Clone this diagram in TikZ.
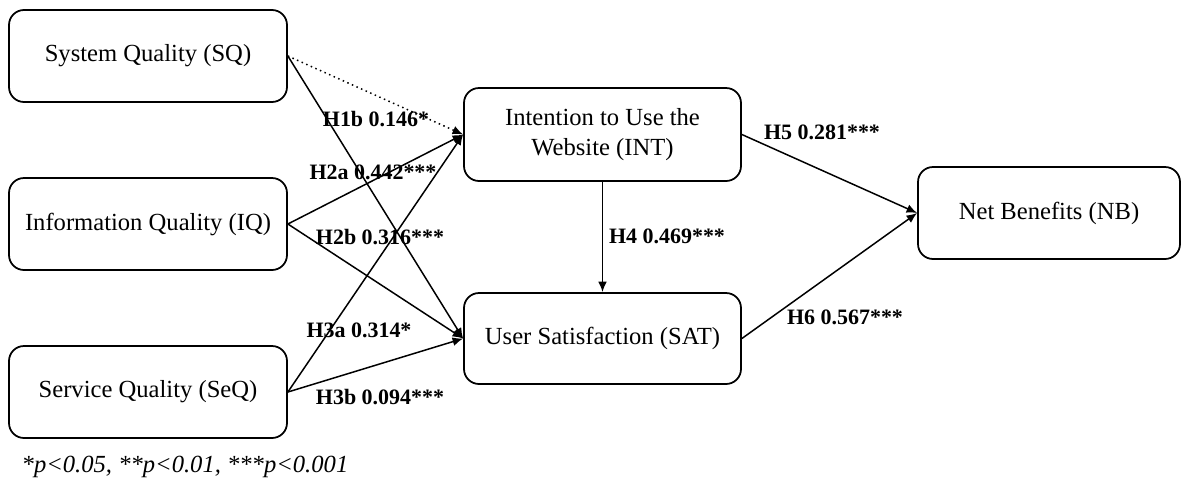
\documentclass[tikz,border=0pt]{standalone}
\usepackage{fontspec}
\setmainfont{Liberation Serif}
\usetikzlibrary{arrows.meta}

\tikzset{
    construct/.style={draw, line width=1pt, rounded corners=0.3cm, align=center,
        minimum width=5.56cm, minimum height=1.84cm, font=\fontsize{14}{17}\selectfont},
    path/.style={-{Latex[length=6pt,width=5pt]}, line width=0.85pt},
    coef/.style={font=\fontsize{12.5}{14}\selectfont\bfseries, inner sep=1pt}
}

\begin{document}
\begin{tikzpicture}
    \useasboundingbox (0,0) rectangle (23.78,-9.86);

    % Constructs
    \node[construct] (sq)  at (2.96,-1.12) {System Quality (SQ)};
    \node[construct] (iq)  at (2.96,-4.48) {Information Quality (IQ)};
    \node[construct] (seq) at (2.96,-7.84) {Service Quality (SeQ)};
    \node[construct, minimum width=5.54cm, minimum height=1.86cm] (int) at (12.05,-2.69) {Intention to Use the\\Website (INT)};
    \node[construct, minimum width=5.54cm, minimum height=1.82cm] (sat) at (12.05,-6.77) {User Satisfaction (SAT)};
    \node[construct, minimum width=5.24cm] (nb) at (20.98,-4.26) {Net Benefits (NB)};

    % Paths
    \draw[path, dotted] (sq.east) -- (int.west);
    \draw[path] (sq.east) -- (sat.west);
    \draw[path] (iq.east) -- (int.west);
    \draw[path] (iq.east) -- (sat.west);
    \draw[path] (seq.east) -- (int.west);
    \draw[path] (seq.east) -- (sat.west);
    \draw[path] (int.south) -- (sat.north);
    \draw[path] (int.east) -- (nb.west);
    \draw[path] (sat.east) -- (nb.west);

    % Coefficients
    \node[coef] (h1b) at (7.52,-2.38) {H1b 0.146*};
    \node[coef] (h2a) at (7.46,-3.44) {H2a 0.442***};
    \node[coef] (h2b) at (7.60,-4.74) {H2b 0.316***};
    \node[coef] (h3a) at (7.18,-6.60) {H3a 0.314*};
    \node[coef] (h3b) at (7.60,-7.94) {H3b 0.094***};
    \node[coef] (h4)  at (13.34,-4.72) {H4 0.469***};
    \node[coef] (h5)  at (16.44,-2.64) {H5 0.281***};
    \node[coef] (h6)  at (16.90,-6.34) {H6 0.567***};

    % Significance note
    \node[font=\fontsize{14}{17}\selectfont\itshape] (note) at (3.7,-9.34) {*p<0.05, **p<0.01, ***p<0.001};
\end{tikzpicture}
\end{document}
